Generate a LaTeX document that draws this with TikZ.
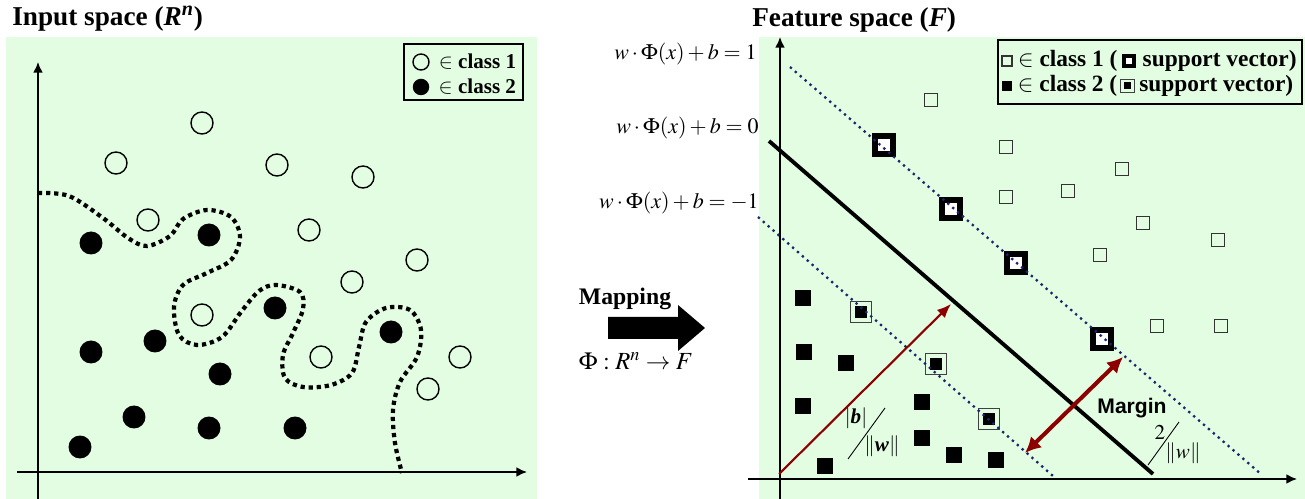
\documentclass[tikz,border=0pt]{standalone}
\usepackage{mathptmx}
\usepackage{fontspec}
\setmainfont{Liberation Serif}
\newfontfamily\arialfont{Liberation Sans}
\usetikzlibrary{positioning,arrows.meta}
\definecolor{bggreen}{RGB}{226,253,226}
\definecolor{dotblue}{RGB}{30,35,110}
\definecolor{arrred}{RGB}{140,0,0}
\tikzset{
	pone/.style={circle,draw,line width=0.8pt,minimum size=0.44cm,inner sep=0pt},
	ptwo/.style={circle,fill,minimum size=0.46cm,inner sep=0pt},
	sqone/.style={rectangle,draw=black!80,line width=0.7pt,minimum size=0.27cm,inner sep=0pt},
	sqtwo/.style={rectangle,fill,minimum size=0.32cm,inner sep=0pt},
	svone/.style={rectangle,draw,fill=white,line width=3.6pt,minimum size=0.37cm,inner sep=0pt},
	svtwo/.style={rectangle,draw=black!75,line width=0.6pt,minimum size=0.43cm,inner sep=0pt,
		path picture={\fill (path picture bounding box.center) +(-0.12cm,-0.12cm) rectangle +(0.12cm,0.12cm);}},
	hyper/.style={dotblue,line width=1.3pt,dash pattern=on 1.3pt off 2.4pt},
	bound/.style={line width=2.4pt,dash pattern=on 2.4pt off 2.2pt},
	ax/.style={line width=0.9pt,-{Latex[length=6pt,width=5.5pt]}},
	legtext/.style={font=\fontsize{12}{14}\selectfont\bfseries,inner sep=0pt,anchor=west},
	ttl/.style={font=\fontsize{15.5}{18}\selectfont\bfseries,inner sep=0pt,anchor=west},
	eqlabel/.style={font=\fontsize{12.5}{15}\selectfont,inner sep=0pt,anchor=east}
}
\begin{document}
\begin{tikzpicture}[x=0.02cm,y=-0.02cm]
	\useasboundingbox (0,0) rectangle (1305,499);
	\fill[bggreen] (6,37) rectangle (537,499);
	\fill[bggreen] (759,37) rectangle (1305,499);
	% titles
	\node[ttl] (tin) at (12,19) {Input space (\textit{R\textsuperscript{n}})};
	\node[ttl] (tfe) at (752,20) {Feature space (\textit{F})};
	% input space
	\coordinate (lyb) at (38,499); \coordinate (lyt) at (38,62);
	\coordinate (lxl) at (17,472); \coordinate (lxr) at (527,472);
	\draw[ax] (lyb) -- (lyt);
	\draw[ax] (lxl) -- (lxr);
	\draw[bound] plot[smooth,tension=0.55] coordinates {(38,193) (69,196) (103,218) (128,238) (147,246)
		(170,236) (183,219) (207,210) (231,217) (240,237) (231,260) (207,273) (183,285) (174,307)
		(179,335) (197,345) (222,337) (241,312) (259,291) (276,285) (300,292) (303,309) (293,333)
		(283,355) (285,378) (303,387) (331,385) (352,373) (359,347) (366,322) (386,308) (410,310)
		(421,330) (417,357) (400,382) (393,410) (395,443) (402,473)};
	\foreach \x/\y [count=\i] in {202/123,116/163,277/165,363/177,148/220,309/230,417/260,352/282,
		202/315,321/357,460/357,428/389}
		\node[pone] (c\i) at (\x,\y) {};
	\foreach \x/\y [count=\i] in {91/243,209/235,275/308,391/332,91/352,155/341,220/374,134/417,
		209/428,295/428,80/447}
		\node[ptwo] (d\i) at (\x,\y) {};
	\draw[line width=0.9pt] (404,44) rectangle (523,100);
	\node[pone,minimum size=0.32cm] (lgc1) at (421,62) {};
	\node[ptwo,minimum size=0.33cm] (lgc2) at (421,87) {};
	\node[legtext,right=5pt of lgc1] (lgt1) {$\in$ class 1};
	\node[legtext,right=5pt of lgc2] (lgt2) {$\in$ class 2};
	% mapping
	\node[font=\fontsize{13.5}{16}\selectfont\bfseries,inner sep=0pt] (map) at (625,299) {Mapping};
	\fill (608,317) -- (678,317) -- (678,305) -- (705,328) -- (678,351) -- (678,339) -- (608,339) -- cycle;
	\node[font=\fontsize{14}{16}\selectfont,inner sep=0pt] (phi) at (636,361) {$\Phi : R^{n} \rightarrow F$};
	% feature space
	\coordinate (ryb) at (780,499); \coordinate (ryt) at (780,37);
	\coordinate (rxl) at (748,479); \coordinate (rxr) at (1297,479);
	\draw[ax] (ryb) -- (ryt);
	\draw[ax] (rxl) -- (rxr);
	\node[eqlabel] (e1) at (757,54) {$w\cdot\Phi(x)+b=1$};
	\node[eqlabel] (e0) at (759,128) {$w\cdot\Phi(x)+b=0$};
	\node[eqlabel] (em) at (759,203) {$w\cdot\Phi(x)+b=-1$};
	\foreach \x/\y [count=\i] in {931/100,1006/147,1122/169,1006/197,1068/191,1143/223,1218/240,
		1100/255,1157/326,1221/326}
		\node[sqone] (s\i) at (\x,\y) {};
	\foreach \x/\y [count=\i] in {884/145,951/209,1016/263,1102/339}
		\node[svone] (v\i) at (\x,\y) {};
	\foreach \x/\y [count=\i] in {803/298,804/352,846/363,803/406,922/402,922/438,825/466,954/455,996/460}
		\node[sqtwo] (f\i) at (\x,\y) {};
	\foreach \x/\y [count=\i] in {861/312,936/364,989/419}
		\node[svtwo] (w\i) at (\x,\y) {};
	\coordinate (hpa) at (790,67); \coordinate (hpb) at (1262,475);
	\coordinate (hza) at (769,141); \coordinate (hzb) at (1153,474);
	\coordinate (hma) at (758,217); \coordinate (hmb) at (1053,476);
	\draw[hyper] (hpa) -- (hpb);
	\draw[hyper] (hma) -- (hmb);
	\draw[line width=2.2pt] (hza) -- (hzb);
	% distances
	\coordinate (org) at (779,474); \coordinate (btip) at (951,304);
	\draw[arrred,line width=1.2pt,-{Latex[length=8pt,width=6.5pt]}] (org) -- (btip);
	\coordinate (mga) at (1025,453); \coordinate (mgb) at (1123,357);
	\draw[arrred,line width=2.3pt,{Latex[length=9pt,width=9pt]}-{Latex[length=9pt,width=9pt]}] (mga) -- (mgb);
	\node[inner sep=0pt,font=\fontsize{12}{14}\selectfont] (bnum) at (856,418) {$|\mbox{\bfseries\itshape b}|$};
	\coordinate (bsa) at (848,459); \coordinate (bsb) at (885,408);
	\draw[line width=0.5pt] (bsa) -- (bsb);
	\node[inner sep=0pt,font=\fontsize{12}{14}\selectfont] (bden) at (882,446) {$\|\mbox{\bfseries\itshape w}\|$};
	\node[inner sep=0pt,font=\arialfont\fontsize{12}{14}\selectfont\bfseries] (mg) at (1132,408) {Margin};
	\node[inner sep=0pt,font=\fontsize{12}{14}\selectfont] (tnum) at (1160,432) {$2$};
	\coordinate (tsa) at (1148,465); \coordinate (tsb) at (1179,422);
	\draw[line width=0.5pt] (tsa) -- (tsb);
	\node[inner sep=0pt,font=\fontsize{12}{14}\selectfont] (tden) at (1183,453) {$\|w\|$};
	% legend
	\draw[line width=1pt] (998,40) rectangle (1302,104);
	\node[sqone,minimum size=0.2cm,line width=0.6pt] (ri1) at (1007,61) {};
	\node[legtext,font=\fontsize{13.3}{15}\selectfont\bfseries,right=3pt of ri1] (rt1) {$\in$ class 1 (};
	\node[svone,minimum size=0.2cm,line width=2.3pt,right=2.5pt of rt1] (rv1) {};
	\node[legtext,font=\fontsize{13.3}{15}\selectfont\bfseries,right=3.5pt of rv1] (rs1) {support vector)};
	\node[sqtwo,minimum size=0.2cm] (ri2) at (1007,86) {};
	\node[legtext,font=\fontsize{13.3}{15}\selectfont\bfseries,right=3pt of ri2] (rt2) {$\in$ class 2 (};
	\node[svtwo,minimum size=0.27cm,line width=0.5pt,
		path picture={\fill (path picture bounding box.center) +(-0.07cm,-0.07cm) rectangle +(0.07cm,0.07cm);},
		right=1.5pt of rt2] (rv2) {};
	\node[legtext,font=\fontsize{13.3}{15}\selectfont\bfseries,right=2.5pt of rv2] (rs2) {support vector)};
\end{tikzpicture}
\end{document}
